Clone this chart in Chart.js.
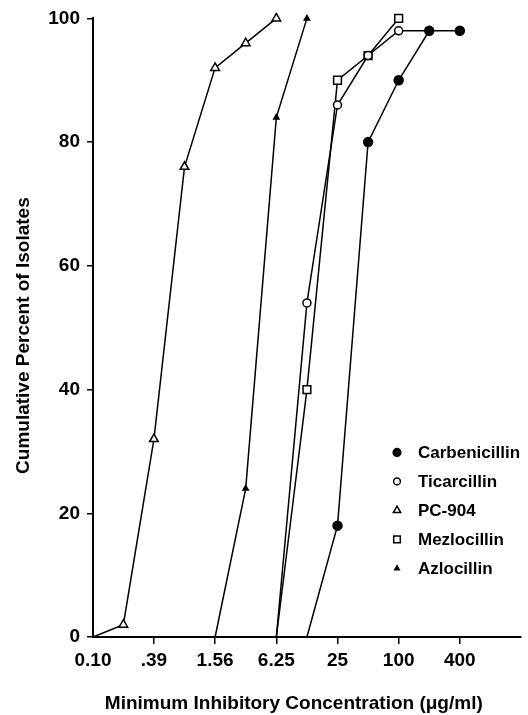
<!DOCTYPE html>
<html>
<head>
<meta charset="utf-8">
<script src="https://cdn.jsdelivr.net/npm/chart.js@4.4.1/dist/chart.umd.min.js"></script>
<style>
  html, body { margin: 0; padding: 0; background: #fff; }
  #wrap { width: 528px; height: 715px; }
</style>
</head>
<body>
<div id="wrap"><canvas id="micChart" width="528" height="715"></canvas></div>
<script>
// MIC (ug/ml) and cumulative percent of isolates
var carbMic = [12.5, 25, 50, 100, 200, 400];
var carbPct = [0, 18, 80, 90, 98, 98];
var ticarMic = [6.25, 12.5, 25, 50, 100, 200];
var ticarPct = [0, 54, 86, 94, 98, 98];
var pc904Mic = [0.098, 0.195, 0.39, 0.78, 1.56, 3.12, 6.25];
var pc904Pct = [0, 2, 32, 76, 92, 96, 100];
var mezloMic = [6.25, 12.5, 25, 50, 100];
var mezloPct = [0, 40, 90, 94, 100];
var azloMic = [1.56, 3.12, 6.25, 12.5];
var azloPct = [0, 24, 84, 100];

var xTickValues = [0.098, 0.39, 1.56, 6.25, 25, 100, 400];
var xTickLabels = ['0.10', '.39', '1.56', '6.25', '25', '100', '400'];
var yTickValues = [0, 20, 40, 60, 80, 100];

var FONT = "'Liberation Sans', Arial, sans-serif";
var NBSP = '\u00a0';

function pts(xs, ys) {
    return xs.map(function (x, i) { return { x: x, y: ys[i] }; });
}

// no marker where a curve starts on the axis
function markerSize(r) {
    return function (ctx) { return ctx.raw && ctx.raw.y === 0 ? 0 : r; };
}

function series(label, xs, ys, style, radius, fill) {
    return {
        label: label,
        data: pts(xs, ys),
        borderColor: '#000',
        borderWidth: 1.5,
        pointStyle: style,
        pointRadius: markerSize(radius),
        pointBackgroundColor: fill,
        pointBorderColor: '#000',
        pointBorderWidth: 1.5,
        tension: 0,
        clip: false,
        legendRadius: radius * 0.85
    };
}

// legend drawn inside the plot, lower right
var insideLegend = {
    id: 'insideLegend',
    afterDraw: function (chart) {
        var c = chart.ctx;
        var area = chart.chartArea;
        var x0 = area.left + 304;
        var y0 = area.top + 434;
        c.save();
        c.font = 'bold 17px ' + FONT;
        c.textBaseline = 'middle';
        chart.data.datasets.forEach(function (ds, i) {
            var y = y0 + i * 29;
            c.strokeStyle = '#000';
            c.fillStyle = ds.pointBackgroundColor;
            c.lineWidth = 1.5;
            Chart.helpers.drawPoint(c, { pointStyle: ds.pointStyle, radius: ds.legendRadius, borderWidth: 1.5 }, x0, y);
            c.fillStyle = '#000';
            c.fillText(ds.label, x0 + 21, y + 1);
        });
        c.restore();
    }
};

var ctx = document.getElementById('micChart').getContext('2d');

var micChart = new Chart(ctx, {
    type: 'line',
    data: {
        datasets: [
            series('Carbenicillin', carbMic, carbPct, 'circle', 4.5, '#000'),
            series('Ticarcillin', ticarMic, ticarPct, 'circle', 4, '#fff'),
            series('PC-904', pc904Mic, pc904Pct, 'triangle', 5, '#fff'),
            series('Mezlocillin', mezloMic, mezloPct, 'rect', 5.5, '#fff'),
            series('Azlocillin', azloMic, azloPct, 'triangle', 3, '#000')
        ]
    },
    options: {
        responsive: false,
        animation: false,
        layout: { padding: { top: 12, right: 7, left: 0, bottom: 0 } },
        plugins: {
            legend: { display: false },
            tooltip: { enabled: false }
        },
        scales: {
            x: {
                type: 'logarithmic',
                min: 0.098,
                max: 1600,
                afterBuildTicks: function (scale) {
                    scale.ticks = xTickValues.map(function (v) { return { value: v }; });
                },
                afterFit: function (scale) { scale.height = 78; },
                grid: {
                    display: true,
                    drawOnChartArea: false,
                    color: function (c) { return c.index === 0 ? 'rgba(0,0,0,0)' : '#000'; },
                    lineWidth: 1.5,
                    tickLength: 7
                },
                border: { display: true, color: '#000', width: 2 },
                ticks: {
                    color: '#000',
                    font: { family: FONT, size: 19, weight: 'bold' },
                    padding: 5,
                    maxRotation: 0,
                    autoSkip: false,
                    callback: function (v, i) { return xTickLabels[i]; }
                },
                title: {
                    display: true,
                    // trailing spaces nudge the centred title left, as in the original
                    text: 'Minimum Inhibitory Concentration (\u03bcg/ml)' + NBSP.repeat(5),
                    color: '#000',
                    font: { family: FONT, size: 19, weight: 'bold' },
                    padding: { top: 4, bottom: 0 }
                }
            },
            y: {
                min: 0,
                max: 100,
                afterBuildTicks: function (scale) {
                    scale.ticks = yTickValues.map(function (v) { return { value: v }; });
                },
                afterFit: function (scale) { scale.width = 93; },
                grid: {
                    display: true,
                    drawOnChartArea: false,
                    color: '#000',
                    lineWidth: 1.5,
                    tickLength: 6
                },
                border: { display: true, color: '#000', width: 2 },
                ticks: {
                    color: '#000',
                    font: { family: FONT, size: 19, weight: 'bold' },
                    padding: 7
                },
                title: {
                    display: true,
                    text: 'Cumulative Percent of Isolates' + NBSP.repeat(3),
                    color: '#000',
                    font: { family: FONT, size: 19, weight: 'bold' },
                    padding: { top: 12, bottom: 0 }
                }
            }
        }
    },
    plugins: [insideLegend]
});
</script>
</body>
</html>
